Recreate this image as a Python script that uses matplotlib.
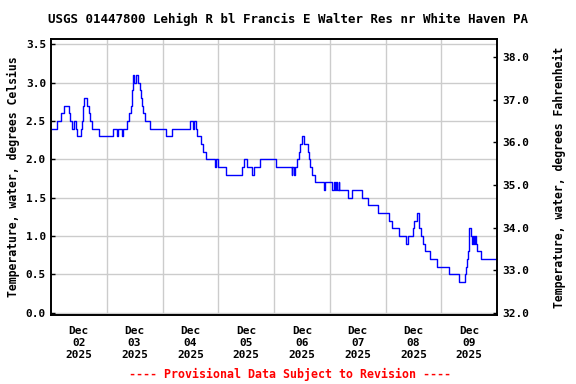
import numpy as np
import matplotlib
matplotlib.use("Agg")
import matplotlib.pyplot as plt
from matplotlib.ticker import FixedLocator, FormatStrFormatter

# Horas desde 2025-12-02 00:00 en que cambia la lectura, y temperatura (°C)
horas = [0.0, 2.5, 4.2, 4.5, 5.7, 7.75, 8.0, 9.2, 10.0, 10.75, 11.3, 12.8, 13.2, 13.6,
         13.9, 14.3, 15.4, 16.5, 16.8, 17.2, 17.8, 20.8, 26.6, 28.5, 29.0, 30.7, 31.1,
         32.6, 33.7, 34.3, 34.9, 35.4, 35.9, 36.7, 37.6, 38.3, 38.75, 39.2, 39.7, 40.5,
         42.6, 49.3, 52.2, 59.8, 61.1, 61.6, 62.4, 63.0, 64.4, 65.3, 66.7, 70.6, 71.0,
         72.0, 75.3, 82.4, 83.1, 84.2, 86.7, 87.4, 90.0, 96.7, 103.6, 103.9, 104.5,
         104.9, 105.9, 106.8, 107.2, 108.2, 109.1, 110.5, 111.0, 111.5, 112.2, 113.6,
         117.5, 118.0, 121.0, 121.6, 122.3, 122.7, 123.1, 123.8, 124.1, 127.7, 129.7,
         134.0, 136.6, 140.9, 145.5, 146.9, 149.9, 152.7, 153.8, 155.7, 156.3, 157.7,
         158.2, 158.6, 159.3, 160.0, 161.0, 163.2, 166.3, 171.5, 175.6, 178.2, 178.7,
         179.2, 179.5, 179.9, 180.8, 181.4, 181.8, 182.2, 182.5, 183.0, 183.5, 185.0,
         191.9]
temp_c = [2.4, 2.5, 2.6, 2.6, 2.7, 2.6, 2.5, 2.4, 2.5, 2.4, 2.3, 2.4, 2.5, 2.6,
          2.7, 2.8, 2.7, 2.6, 2.5, 2.5, 2.4, 2.3, 2.4, 2.3, 2.4, 2.3, 2.4,
          2.5, 2.6, 2.7, 2.9, 3.1, 3.0, 3.1, 3.0, 2.9, 2.8, 2.7, 2.6, 2.5,
          2.4, 2.3, 2.4, 2.5, 2.4, 2.5, 2.4, 2.3, 2.2, 2.1, 2.0, 1.9, 2.0,
          1.9, 1.8, 1.9, 2.0, 1.9, 1.8, 1.9, 2.0, 1.9, 1.8, 1.9, 1.8,
          1.9, 2.0, 2.1, 2.2, 2.3, 2.2, 2.1, 2.0, 1.9, 1.8, 1.7,
          1.6, 1.7, 1.6, 1.7, 1.6, 1.7, 1.6, 1.7, 1.6, 1.5, 1.6,
          1.5, 1.4, 1.3, 1.2, 1.1, 1.0, 0.9, 1.0, 1.1, 1.2, 1.3,
          1.2, 1.1, 1.0, 0.9, 0.8, 0.7, 0.6, 0.5, 0.4, 0.5, 0.6,
          0.7, 0.8, 1.1, 1.0, 0.9, 1.0, 0.9, 1.0, 0.9, 0.8, 0.7,
          0.7]

dias = ["02", "03", "04", "05", "06", "07", "08", "09"]
titulo = "USGS 01447800 Lehigh R bl Francis E Walter Res nr White Haven PA"

fuente = "DejaVu Sans Mono"

fig = plt.figure(figsize=(5.76, 3.84), dpi=100)
ax = fig.add_axes([0.0885, 0.180, 0.7745, 0.718])

ax.step(horas, temp_c, where="post", color="#0000ff", linewidth=1.0)

ymin, ymax = -0.026, 3.565
ax.set_xlim(0, 192)
ax.set_ylim(ymin, ymax)

# Rejilla
ax.xaxis.set_major_locator(FixedLocator(np.arange(24, 192, 24)))
ax.xaxis.set_minor_locator(FixedLocator(np.arange(12, 192, 24)))
ax.set_xticklabels([], minor=False)
ax.set_xticklabels([f"Dec\n{d}\n2025" for d in dias], minor=True,
                   fontfamily=fuente, fontweight="bold", fontsize=8, linespacing=1.25)
ax.tick_params(axis="x", which="both", length=0, pad=8)
ax.set_yticks(np.arange(0, 3.51, 0.5))
ax.yaxis.set_major_formatter(FormatStrFormatter("%.1f"))
ax.tick_params(axis="y", direction="in", length=3, width=1)
ax.grid(True, which="major", color="#cccccc", linewidth=1.0)
ax.set_axisbelow(True)

for lbl in ax.get_yticklabels():
    lbl.set_fontfamily(fuente)
    lbl.set_fontweight("bold")
    lbl.set_fontsize(8)

ax.set_ylabel("Temperature, water, degrees Celsius", fontfamily=fuente,
              fontweight="bold", fontsize=8.3, labelpad=4)

# Eje derecho en Fahrenheit
ax2 = ax.twinx()
ax2.set_ylim(ymin * 9 / 5 + 32, ymax * 9 / 5 + 32)
ax2.set_yticks(np.arange(32, 38.1, 1))
ax2.yaxis.set_major_formatter(FormatStrFormatter("%.1f"))
ax2.tick_params(axis="y", direction="in", length=3, width=1)
for lbl in ax2.get_yticklabels():
    lbl.set_fontfamily(fuente)
    lbl.set_fontweight("bold")
    lbl.set_fontsize(8)
ax2.set_ylabel("Temperature, water, degrees Fahrenheit", fontfamily=fuente,
               fontweight="bold", fontsize=8.3, labelpad=17)

for a in (ax, ax2):
    for s in a.spines.values():
        s.set_linewidth(1.2)

fig.text(0.5, 0.95, titulo, ha="center", va="center", fontfamily=fuente,
         fontweight="bold", fontsize=9)
fig.text(0.503, 0.026, "---- Provisional Data Subject to Revision ----", ha="center",
         va="center", color="red", fontfamily=fuente, fontweight="bold", fontsize=8.4)

fig.savefig("out.png", dpi=100)
